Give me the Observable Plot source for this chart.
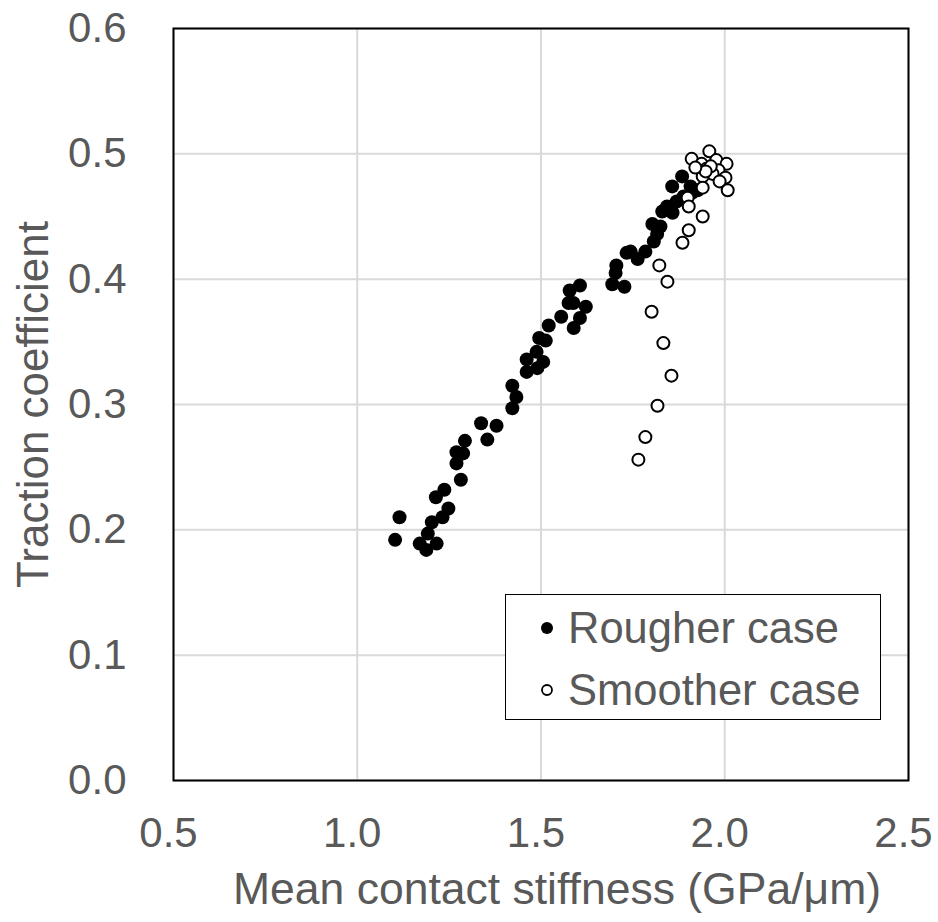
<!DOCTYPE html>
<html>
<head>
<meta charset="utf-8">
<script src="https://cdn.jsdelivr.net/npm/d3@7"></script>
<script src="https://cdn.jsdelivr.net/npm/@observablehq/plot@0.6"></script>
<style>
  html, body { margin: 0; padding: 0; background: #fff; }
  #wrap { position: relative; width: 938px; height: 922px; font-family: "Liberation Sans", Arial, sans-serif; }
  #legend { position: absolute; left: 505px; top: 594px; width: 374px; height: 124px; border: 1.5px solid #000; background: #fff; }
  .row { position: absolute; left: 0; height: 50px; display: flex; align-items: center; color: #595959; font-size: 43.5px; white-space: nowrap; }
  .row svg { margin-left: 33px; margin-right: 13px; }
</style>
</head>
<body>
<div id="wrap"></div>
<script>
const xLabel = "Mean contact stiffness (GPa/μm)";
const yLabel = "Traction coefficient";
const xTicks = [0.5, 1.0, 1.5, 2.0, 2.5];
const yTicks = [0.0, 0.1, 0.2, 0.3, 0.4, 0.5, 0.6];
const seriesNames = ["Rougher case", "Smoother case"];

const roughX = [1.103,1.115,1.170,1.188,1.216,1.192,1.203,1.232,1.248,1.214,1.237,1.282,1.270,1.270,1.288,1.293,1.337,1.354,1.379,1.422,1.433,1.422,1.461,1.490,1.461,1.506,1.488,1.513,1.495,1.521,1.555,1.589,1.606,1.622,1.575,1.588,1.578,1.606,1.694,1.727,1.703,1.705,1.744,1.733,1.763,1.784,1.807,1.816,1.825,1.803,1.830,1.843,1.857,1.884,1.911,1.869,1.888,1.907,1.926,1.858];
const roughY = [0.192,0.210,0.189,0.184,0.189,0.197,0.206,0.210,0.217,0.226,0.232,0.240,0.253,0.262,0.261,0.271,0.285,0.272,0.283,0.297,0.306,0.315,0.326,0.329,0.336,0.334,0.342,0.351,0.353,0.363,0.370,0.361,0.369,0.378,0.381,0.381,0.391,0.395,0.396,0.394,0.405,0.411,0.422,0.421,0.416,0.422,0.430,0.436,0.442,0.444,0.454,0.458,0.474,0.482,0.469,0.462,0.466,0.474,0.471,0.453];

const smoothX = [1.910,1.958,1.977,2.005,1.937,1.950,1.983,1.967,2.002,1.940,1.986,2.008,1.940,1.899,1.902,1.940,1.902,1.885,1.822,1.844,1.801,1.833,1.855,1.817,1.784,1.765,1.962,1.948,1.920];
const smoothY = [0.496,0.502,0.495,0.492,0.492,0.488,0.487,0.484,0.481,0.482,0.478,0.471,0.473,0.465,0.458,0.450,0.439,0.429,0.411,0.398,0.374,0.349,0.323,0.299,0.274,0.256,0.490,0.486,0.489];

const rough = roughX.map((x, i) => ({x, y: roughY[i]}));
const smooth = smoothX.map((x, i) => ({x, y: smoothY[i]}));

const gray = "#595959";
const chart = Plot.plot({
  width: 938,
  height: 922,
  marginLeft: 173,
  marginRight: 30,
  marginTop: 28,
  marginBottom: 142,
  style: { fontFamily: "'Liberation Sans', Arial, sans-serif", fontSize: "42px", background: "#fff", overflow: "visible" },
  x: { domain: [0.5, 2.5] },
  y: { domain: [0, 0.6] },
  marks: [
    Plot.gridX(xTicks, { stroke: "#d9d9d9", strokeOpacity: 1, strokeWidth: 2 }),
    Plot.gridY(yTicks, { stroke: "#d9d9d9", strokeOpacity: 1, strokeWidth: 2 }),
    Plot.axisX(xTicks, { tickSize: 0, tickPadding: 37, dx: -5, tickFormat: d => d.toFixed(1), fill: gray, fontSize: 42, label: null }),
    Plot.axisY(yTicks, { tickSize: 0, tickPadding: 47, tickFormat: d => d.toFixed(1), fill: gray, fontSize: 42, label: null }),
    Plot.text([xLabel], { frameAnchor: "bottom", dy: 123, dx: 16, lineAnchor: "bottom", textAnchor: "middle", fill: gray, fontSize: 44.5 }),
    Plot.text([yLabel], { frameAnchor: "left", dx: -140, rotate: -90, textAnchor: "middle", fill: gray, fontSize: 44 }),
    Plot.dot(rough, { x: "x", y: "y", r: 7, fill: "#000", stroke: "none" }),
    Plot.dot(smooth, { x: "x", y: "y", r: 6, fill: "#fff", stroke: "#000", strokeWidth: 2 }),
    Plot.frame({ stroke: "#000", strokeWidth: 2 })
  ]
});
const wrap = document.getElementById("wrap");
wrap.appendChild(chart);

const legend = document.createElement("div");
legend.id = "legend";
legend.innerHTML = `
  <div class="row" style="top:8px"><svg width="16" height="16"><circle cx="8" cy="8" r="6" fill="#000"/></svg>${seriesNames[0]}</div>
  <div class="row" style="top:70px"><svg width="16" height="16"><circle cx="8" cy="8" r="5" fill="#fff" stroke="#000" stroke-width="1.8"/></svg>${seriesNames[1]}</div>`;
wrap.appendChild(legend);
</script>
</body>
</html>
